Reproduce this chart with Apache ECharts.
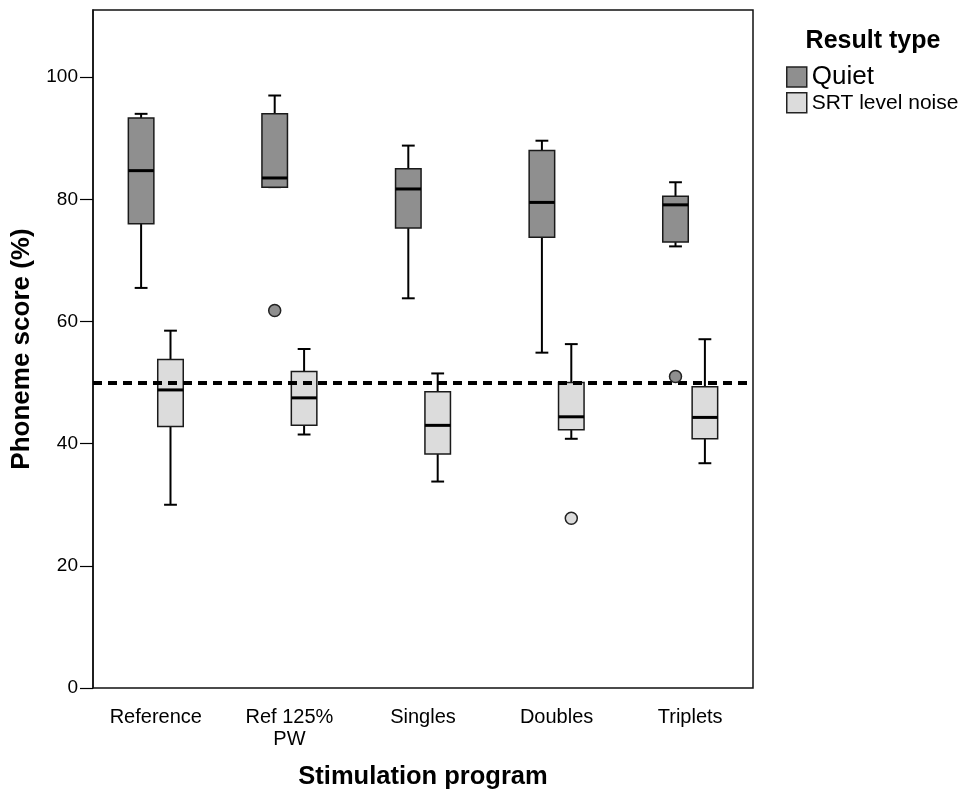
<!DOCTYPE html>
<html>
<head>
<meta charset="utf-8">
<script src="https://cdn.jsdelivr.net/npm/echarts@6/dist/echarts.min.js"></script>
<style>
  html, body { margin: 0; background: #fff; }
  #chart { width: 963px; height: 796px; }
</style>
</head>
<body>
<div id="chart"></div>
<script>
const categories = ['Reference', 'Ref 125%\nPW', 'Singles', 'Doubles', 'Triplets'];
// [min, q1, median, q3, max] per category
const quietBoxes = [
  [65.5, 76.0, 84.7, 93.3, 94.0],
  [82.0, 82.0, 83.5, 94.0, 97.0],
  [63.8, 75.3, 81.7, 85.0, 88.8],
  [54.9, 73.8, 79.5, 88.0, 89.6],
  [72.3, 73.0, 79.1, 80.5, 82.8]
];
const noiseBoxes = [
  [30.0, 42.8, 48.8, 53.8, 58.5],
  [41.5, 43.0, 47.5, 51.8, 55.5],
  [33.8, 38.3, 43.0, 48.5, 51.5],
  [40.8, 42.3, 44.4, 50.0, 56.3],
  [36.8, 40.8, 44.3, 49.3, 57.1]
];
// [category index, value]
const quietOutliers = [[1, 61.8], [4, 51.0]];
const noiseOutliers = [[3, 27.8]];
const referenceLine = 50;
const yTicks = [0, 20, 40, 60, 80, 100];

const quietFill = '#8f8f8f';
const noiseFill = '#dcdcdc';
const font = "'Liberation Sans', Arial, sans-serif";

function boxRenderer(shift, fill) {
  return function (params, api) {
    const band = api.size([1, 0])[0];
    const i = api.value(0);
    const cx = api.coord([i, 0])[0] + shift * band;
    const half = band * 0.0955;
    const cap = band * 0.048;
    const y = [1, 2, 3, 4, 5].map(d => api.coord([i, api.value(d)])[1]);
    const whisker = { stroke: '#000', lineWidth: 2 };
    return {
      type: 'group',
      children: [
        { type: 'line', shape: { x1: cx, y1: y[4], x2: cx, y2: y[3] }, style: whisker },
        { type: 'line', shape: { x1: cx, y1: y[1], x2: cx, y2: y[0] }, style: whisker },
        { type: 'line', shape: { x1: cx - cap, y1: y[4], x2: cx + cap, y2: y[4] }, style: whisker },
        { type: 'line', shape: { x1: cx - cap, y1: y[0], x2: cx + cap, y2: y[0] }, style: whisker },
        { type: 'rect', shape: { x: cx - half, y: y[3], width: half * 2, height: y[1] - y[3] },
          style: { fill: fill, stroke: '#1a1a1a', lineWidth: 1.5 } },
        { type: 'line', shape: { x1: cx - half, y1: y[2], x2: cx + half, y2: y[2] },
          style: { stroke: '#000', lineWidth: 3 } }
      ]
    };
  };
}

const chart = echarts.init(document.getElementById('chart'));
chart.setOption({
  animation: false,
  title: {
    text: 'Result type',
    left: 873,
    top: 29,
    padding: 0,
    textAlign: 'center',
    textStyle: { fontFamily: font, fontWeight: 'bold', fontSize: 25, color: '#000' }
  },
  legend: {
    orient: 'vertical',
    left: 786,
    top: 64,
    padding: 0,
    itemWidth: 20,
    itemHeight: 20,
    itemGap: 2,
    icon: 'rect',
    data: [
      { name: 'Quiet', itemStyle: { color: quietFill, borderColor: '#222', borderWidth: 1.5 },
        textStyle: { fontSize: 26, lineHeight: 20 } },
      { name: 'SRT level noise', itemStyle: { color: noiseFill, borderColor: '#222', borderWidth: 1.5 },
        textStyle: { fontSize: 21, lineHeight: 20 } }
    ],
    textStyle: { fontFamily: font, color: '#000' }
  },
  grid: [
    { left: 93, right: 210, top: 10, bottom: 108, show: true, borderColor: '#111', borderWidth: 1.5 },
    { left: 89, right: 206, top: 10, bottom: 108 }
  ],
  xAxis: [
    { gridIndex: 0, type: 'value', min: 0, max: 1, show: false },
    {
      gridIndex: 1,
      type: 'category',
      data: categories,
      boundaryGap: true,
      axisLine: { show: false },
      axisTick: { alignWithLabel: true, length: 12, lineStyle: { color: '#000', width: 1.5 } },
      axisLabel: { margin: 18, fontFamily: font, fontSize: 20, lineHeight: 22, color: '#000', interval: 0 },
      name: 'Stimulation program',
      nameLocation: 'middle',
      nameGap: 76,
      nameTextStyle: { fontFamily: font, fontWeight: 'bold', fontSize: 25.5, color: '#000' }
    }
  ],
  yAxis: [
    {
      gridIndex: 0,
      type: 'value',
      min: 0,
      max: 111,
      splitLine: { show: false },
      axisLine: { show: true, lineStyle: { color: '#111', width: 1.5 } },
      axisTick: { customValues: yTicks, length: 13, lineStyle: { color: '#000', width: 1.2 } },
      axisLabel: { customValues: yTicks, margin: 15, fontFamily: font, fontSize: 19, color: '#000' },
      name: 'Phoneme score (%)',
      nameLocation: 'middle',
      nameRotate: 90,
      nameGap: 58,
      nameTextStyle: { fontFamily: font, fontWeight: 'bold', fontSize: 26, color: '#000' }
    },
    { gridIndex: 1, type: 'value', min: 0, max: 111, show: false }
  ],
  series: [
    {
      name: 'Quiet',
      type: 'custom',
      xAxisIndex: 1,
      yAxisIndex: 1,
      itemStyle: { color: quietFill, borderColor: '#222', borderWidth: 1.5 },
      renderItem: boxRenderer(-0.11, quietFill),
      encode: { x: 0, y: [1, 2, 3, 4, 5] },
      data: quietBoxes.map((b, i) => [i].concat(b)),
      z: 2
    },
    {
      name: 'SRT level noise',
      type: 'custom',
      xAxisIndex: 1,
      yAxisIndex: 1,
      itemStyle: { color: noiseFill, borderColor: '#222', borderWidth: 1.5 },
      renderItem: boxRenderer(0.11, noiseFill),
      encode: { x: 0, y: [1, 2, 3, 4, 5] },
      data: noiseBoxes.map((b, i) => [i].concat(b)),
      z: 2
    },
    {
      name: 'reference',
      type: 'line',
      xAxisIndex: 0,
      yAxisIndex: 0,
      data: [],
      z: 4,
      markLine: {
        silent: true,
        symbol: 'none',
        label: { show: false },
        lineStyle: { color: '#000', width: 4, type: [9, 6] },
        data: [{ yAxis: referenceLine }]
      }
    },
    {
      name: 'Quiet outliers',
      type: 'scatter',
      xAxisIndex: 1,
      yAxisIndex: 1,
      symbol: 'circle',
      symbolSize: 12,
      symbolOffset: [-14.7, 0],
      itemStyle: { color: quietFill, borderColor: '#222', borderWidth: 1.5, opacity: 1 },
      data: quietOutliers,
      z: 5
    },
    {
      name: 'SRT level noise outliers',
      type: 'scatter',
      xAxisIndex: 1,
      yAxisIndex: 1,
      symbol: 'circle',
      symbolSize: 12,
      symbolOffset: [14.7, 0],
      itemStyle: { color: noiseFill, borderColor: '#222', borderWidth: 1.5, opacity: 1 },
      data: noiseOutliers,
      z: 5
    }
  ]
});
</script>
</body>
</html>
